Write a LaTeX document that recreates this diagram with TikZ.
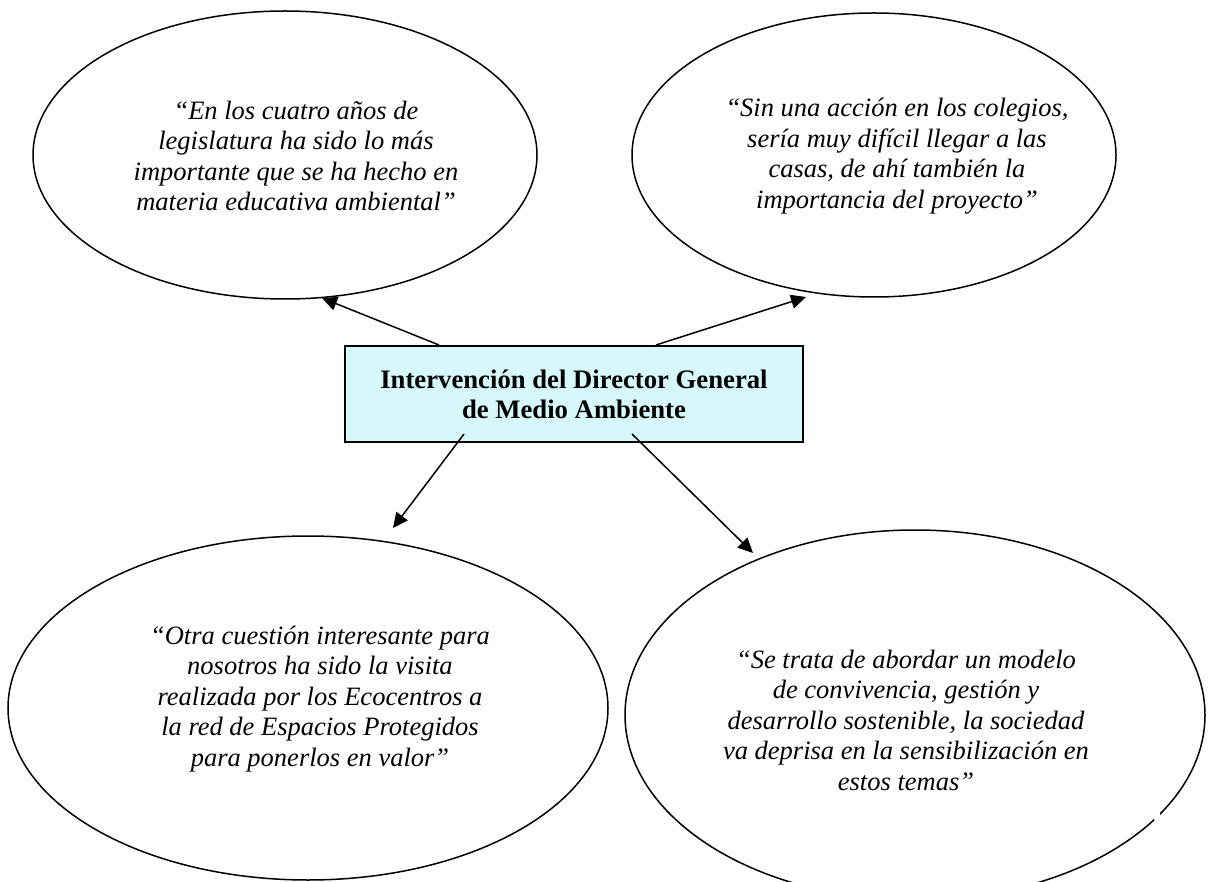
\documentclass[tikz,border=0pt]{standalone}
\usepackage{fontspec}
\setmainfont{Liberation Serif}
\usetikzlibrary{shapes.geometric,arrows.meta}
\definecolor{boxfill}{RGB}{214,248,250}
\tikzset{
  bubble/.style={ellipse, draw=black, line width=1.5pt, inner sep=0pt},
  quote/.style={align=center, font=\fontsize{26.5}{30.5}\selectfont\itshape, inner sep=0pt},
  titlebox/.style={draw=black, line width=2pt, fill=boxfill, inner sep=0pt,
    minimum width=458pt, minimum height=96pt, align=center,
    font=\fontsize{26.7}{30}\selectfont\bfseries},
  link/.style={line width=1.5pt, -{Triangle[length=15pt,width=14pt]}}
}
\begin{document}
\begin{tikzpicture}[x=1pt,y=-1pt]
\useasboundingbox (0,0) rectangle (1213,882);
\begin{scope}
\clip (0,0) rectangle (1213,882);
\node[bubble, minimum width=504pt, minimum height=288pt] (tl) at (285,155) {};
\node[bubble, minimum width=484pt, minimum height=284pt] (tr) at (874,155) {};
\node[bubble, minimum width=600pt, minimum height=344pt] (bl) at (308,708) {};
\node[bubble, minimum width=580pt, minimum height=370pt] (br) at (915,715) {};
\fill[white] (1154,811) rectangle (1160,820);
\end{scope}

\node[quote] (qtl) at (296,156) {“En los cuatro años de\\legislatura ha sido lo más\\importante que se ha hecho en\\materia educativa ambiental”};
\node[quote] (qtr) at (897,156) {“Sin una acción en los colegios,\\sería muy difícil llegar a las\\casas, de ahí también la\\importancia del proyecto”};
\node[quote] (qbl) at (320,699) {“Otra cuestión interesante para\\nosotros ha sido la visita\\realizada por los Ecocentros a\\la red de Espacios Protegidos\\para ponerlos en valor”};
\node[quote] (qbr) at (906,720) {“Se trata de abordar un modelo\\de convivencia, gestión y\\desarrollo sostenible, la sociedad\\va deprisa en la sensibilización en\\estos temas”};

\node[titlebox] (box) at (574,394) {Intervención del Director General\\de Medio Ambiente};

\coordinate (t1) at (322,298);
\coordinate (t2) at (806,297);
\coordinate (t3) at (393,528);
\coordinate (t4) at (753,553);

\draw[link] ([xshift=95pt]box.north west) -- (t1);
\draw[link] ([xshift=312pt]box.north west) -- (t2);
\draw[link] ([xshift=120pt,yshift=9pt]box.south west) -- (t3);
\draw[link] ([xshift=288pt,yshift=9pt]box.south west) -- (t4);
\end{tikzpicture}
\end{document}
